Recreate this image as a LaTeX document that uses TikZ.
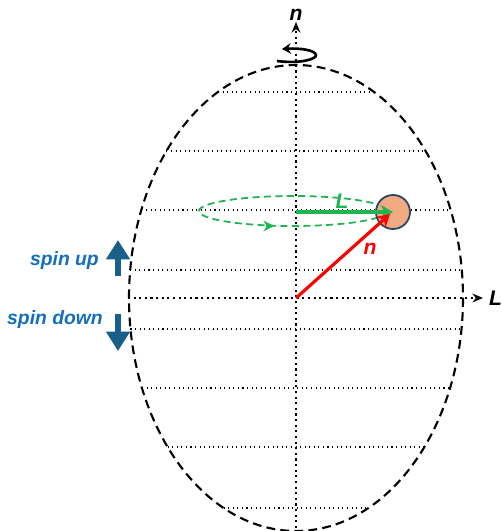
\documentclass[tikz,border=0pt]{standalone}
\usepackage{fontspec}
\setmainfont{Liberation Sans}
\usetikzlibrary{arrows.meta,positioning,calc}
\definecolor{ballfill}{RGB}{242,170,130}
\definecolor{ballrim}{RGB}{40,70,95}
\definecolor{orbit}{RGB}{30,180,80}
\definecolor{spintext}{RGB}{20,110,190}
\definecolor{spinarrow}{RGB}{25,95,135}
\tikzset{
  shell/.style={draw,dashed,line width=1.2pt,dash pattern=on 5pt off 3pt},
  chord/.style={draw,dotted,line width=0.6pt},
  axis/.style={draw,dotted,line width=1.2pt,-{Stealth[length=6pt,width=5pt]}},
  lab/.style={font=\fontsize{12}{14}\selectfont\bfseries\itshape},
  spinlab/.style={font=\fontsize{11}{13}\selectfont\bfseries\itshape,text=spintext},
  spinarr/.style={line width=3.5pt,spinarrow,-{Triangle[length=11pt,width=13pt]}}
}
\begin{document}
\begin{tikzpicture}[x=0.02cm,y=-0.02cm]
        \useasboundingbox (0,0) rectangle (502,531);
        \coordinate (c) at (296,298);
        % nucleus outline and latitude lines
        \draw[shell] (c) ellipse [x radius=167,y radius=233];
        \foreach \d in {-206,-147,-88,-28,31,90,149,210}{
          \pgfmathsetmacro\hw{167*sqrt(1-(\d/233)^2)}
          \draw[chord] ($(c)+(-\hw,\d)$) -- ($(c)+(\hw,\d)$);
        }
        % axes
        \coordinate (ntip) at (296,22);
        \coordinate (nbot) at (296,528);
        \coordinate (lleft) at (128,298);
        \coordinate (ltip) at (483,298);
        \draw[axis] (nbot) -- (ntip);
        \draw[axis] (lleft) -- (ltip);
        \node[lab] (nlab) at (296,15) {n};
        \node[lab,anchor=west] (llab) at (ltip) {L};
        % rotation about n
        \draw[line width=1.5pt,-{Stealth[length=5pt,width=6pt]}] (277,61) .. controls (300,64) and (317,59) .. (316,55) .. controls (315,50) and (300,48) .. (282,49);
        % orbiting nucleon
        \draw[orbit,dashed,line width=1pt,dash pattern=on 4pt off 2.5pt] (293,211) ellipse [x radius=94,y radius=15];
        \draw[orbit,line width=1pt,-{Stealth[length=6pt,width=6pt]}] (266,226) -- (274,226);
        \node[circle,draw=ballrim,line width=1pt,fill=ballfill,minimum size=34*0.02cm,inner sep=0pt] (ball) at (393,212) {};
        \draw[orbit,line width=2.2pt,-{Stealth[length=7pt,width=8pt]}] (296,212) -- (ball.center);
        \node[lab,text=orbit] (Llab) at (342,201) {L};
        \draw[red,line width=1.8pt,-{Stealth[length=7pt,width=8pt]}] (c) -- ($(ball.center)+(-3,2)$);
        \node[lab,text=red] (rlab) at (370,249) {n};
        % spin orientation
        \coordinate (upbot) at (118,276);
        \coordinate (uptop) at (118,240);
        \coordinate (dntop) at (118,314);
        \coordinate (dnbot) at (118,351);
        \draw[spinarr] (upbot) -- (uptop);
        \draw[spinarr] (dntop) -- (dnbot);
        \node[spinlab,anchor=east] (up) at (105,260) {spin up};
        \node[spinlab,anchor=east] (down) at (109,319) {spin down};
      \end{tikzpicture}
\end{document}
